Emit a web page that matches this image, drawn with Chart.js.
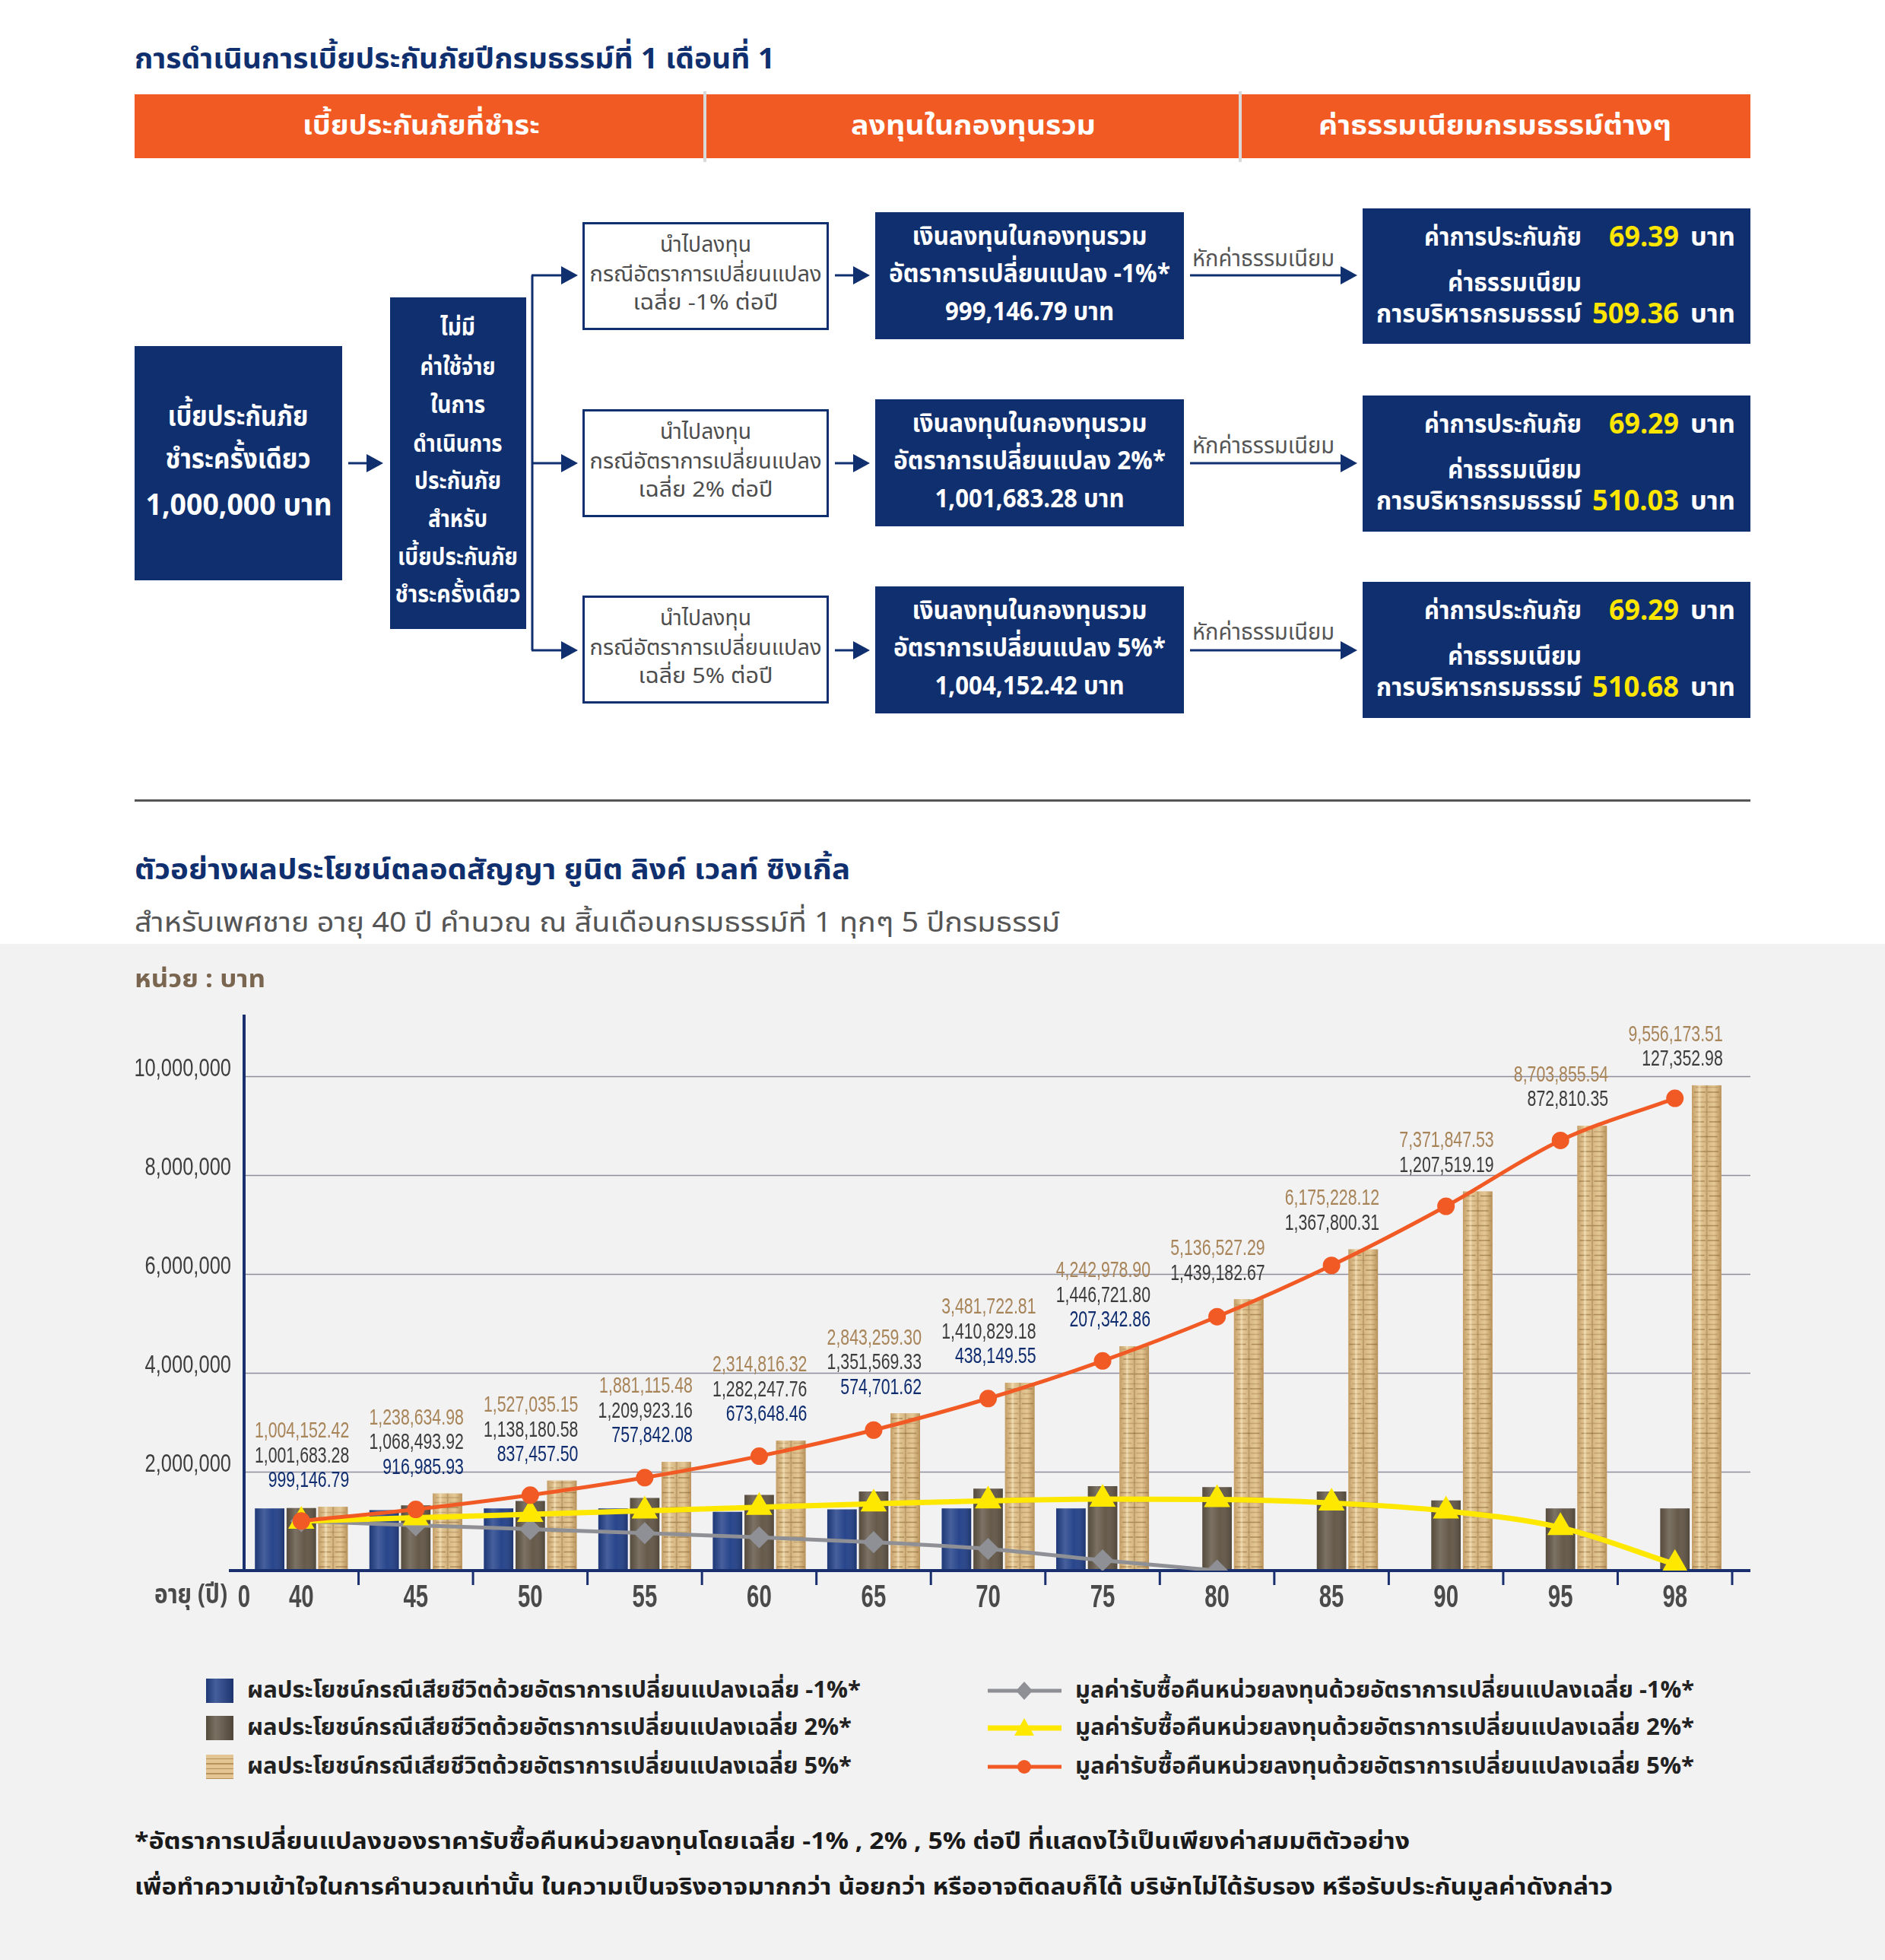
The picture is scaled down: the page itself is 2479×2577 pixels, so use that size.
<!DOCTYPE html>
<html lang="th">
<head>
<meta charset="utf-8">
<script src="https://cdn.jsdelivr.net/npm/chart.js@4.4.1/dist/chart.umd.min.js"></script>
<style>
html, body { margin: 0; padding: 0; background: #fff; }
#page { position: relative; width: 2479px; height: 2577px; overflow: hidden; font-family: "Noto Sans Thai", "Noto Sans", sans-serif; }
.blk { position: absolute; }
.navy { position: absolute; background: #0f2f6e; }
.wbox { position: absolute; background: #fff; border: 3px solid #0f2f6e; box-sizing: border-box; }
.t { position: absolute; left: 0; top: 0; white-space: nowrap; line-height: 1; transform-origin: 0 50%; }
#chartWrap { position: absolute; left: 150px; top: 1300px; width: 2200px; height: 880px; }
</style>
</head>
<body>
<div id="page">
  <div class="blk" style="left:0;top:1241px;width:2479px;height:1336px;background:#f2f2f3"></div>
  <div class="blk" style="left:177px;top:124px;width:2125px;height:84px;background:#f15a22"></div>
  <div class="blk" style="left:925px;top:120px;width:4px;height:93px;background:#d9d9d9"></div>
  <div class="blk" style="left:1629px;top:120px;width:4px;height:93px;background:#d9d9d9"></div>
  <div class="blk" style="left:177px;top:1051px;width:2125px;height:3px;background:#555"></div>

  <div class="navy" style="left:177px;top:455px;width:273px;height:308px"></div>
  <div class="navy" style="left:513px;top:391px;width:179px;height:436px"></div>
  <div class="wbox" style="left:766px;top:292px;width:324px;height:142px"></div>
  <div class="wbox" style="left:766px;top:538px;width:324px;height:142px"></div>
  <div class="wbox" style="left:766px;top:783px;width:324px;height:142px"></div>
  <div class="navy" style="left:1151px;top:279px;width:406px;height:167px"></div>
  <div class="navy" style="left:1151px;top:525px;width:406px;height:167px"></div>
  <div class="navy" style="left:1151px;top:771px;width:406px;height:167px"></div>
  <div class="navy" style="left:1792px;top:274px;width:510px;height:178px"></div>
  <div class="navy" style="left:1792px;top:520px;width:510px;height:179px"></div>
  <div class="navy" style="left:1792px;top:765px;width:510px;height:179px"></div>

  <svg id="arrows" class="blk" style="left:0;top:0" width="2479" height="1000"></svg>

  <div id="chartWrap"><canvas id="chart" width="2200" height="880"></canvas></div>
</div>

<script>
// ข้อมูลกราฟ (บาท)
var ages = ['40', '45', '50', '55', '60', '65', '70', '75', '80', '85', '90', '95', '98'];

// มูลค่ารับซื้อคืนหน่วยลงทุน
var cvMinus1 = [999146.79, 916985.93, 837457.50, 757842.08, 673648.46, 574701.62, 438149.55, 207342.86, 0, null, null, null, null];
var cv2 = [1001683.28, 1068493.92, 1138180.58, 1209923.16, 1282247.76, 1351569.33, 1410829.18, 1446721.80, 1439182.67, 1367800.31, 1207519.19, 872810.35, 127352.98];
var cv5 = [1004152.42, 1238634.98, 1527035.15, 1881115.48, 2314816.32, 2843259.30, 3481722.81, 4242978.90, 5136527.29, 6175228.12, 7371847.53, 8703855.54, 9556173.51];

// ผลประโยชน์กรณีเสียชีวิต (อ่านจากความสูงแท่ง)
var dbMinus1 = [1260000, 1225000, 1260000, 1260000, 1190000, 1240000, 1260000, 1260000, null, null, null, null, null];
var db2 = [1265000, 1320000, 1410000, 1470000, 1530000, 1600000, 1660000, 1710000, 1690000, 1600000, 1420000, 1260000, 1260000];
var db5 = [1290000, 1560000, 1820000, 2200000, 2630000, 3180000, 3800000, 4540000, 5490000, 6500000, 7670000, 9000000, 9820000];

var yTicks = [2000000, 4000000, 6000000, 8000000, 10000000];

var barLabels = [
    'ผลประโยชน์กรณีเสียชีวิตด้วยอัตราการเปลี่ยนแปลงเฉลี่ย -1%*',
    'ผลประโยชน์กรณีเสียชีวิตด้วยอัตราการเปลี่ยนแปลงเฉลี่ย 2%*',
    'ผลประโยชน์กรณีเสียชีวิตด้วยอัตราการเปลี่ยนแปลงเฉลี่ย 5%*'
];
var lineLabels = [
    'มูลค่ารับซื้อคืนหน่วยลงทุนด้วยอัตราการเปลี่ยนแปลงเฉลี่ย -1%*',
    'มูลค่ารับซื้อคืนหน่วยลงทุนด้วยอัตราการเปลี่ยนแปลงเฉลี่ย  2%*',
    'มูลค่ารับซื้อคืนหน่วยลงทุนด้วยอัตราการเปลี่ยนแปลงเฉลี่ย  5%*'
];

var NAVY = '#0f2f6e';
var THAI = '"Noto Sans Thai", "Noto Sans", sans-serif';
var SANS = '"Liberation Sans", Arial, sans-serif';
var page = document.getElementById('page');

// วางข้อความแล้วบีบให้ได้ความกว้างตามต้นฉบับ
function put(s, x, y, w, size, color, weight, anchor, family) {
    var e = document.createElement('span');
    e.className = 't';
    e.textContent = s;
    e.style.fontSize = size + 'px';
    e.style.color = color;
    e.style.fontWeight = weight || 400;
    if (family) e.style.fontFamily = family;
    page.appendChild(e);
    var r = e.getBoundingClientRect();
    var k = w ? w / r.width : 1;
    var ww = r.width * k;
    var left = anchor === 'c' ? x - ww / 2 : anchor === 'r' ? x - ww : x;
    e.style.transform = 'translate(' + left + 'px,' + (y - r.height / 2) + 'px) scaleX(' + k + ')';
    return e;
}

// ลูกศร
var svg = document.getElementById('arrows');
function arrow(x1, y, x2) {
    svg.insertAdjacentHTML('beforeend',
        '<line x1="' + x1 + '" y1="' + y + '" x2="' + (x2 - 18) + '" y2="' + y + '" stroke="' + NAVY + '" stroke-width="3"/>' +
        '<polygon points="' + (x2 - 22) + ',' + (y - 12) + ' ' + x2 + ',' + y + ' ' + (x2 - 22) + ',' + (y + 12) + '" fill="' + NAVY + '"/>');
}
arrow(458, 609, 504);
svg.insertAdjacentHTML('beforeend', '<line x1="700" y1="362" x2="700" y2="855" stroke="' + NAVY + '" stroke-width="3"/>');
[362, 609, 855].forEach(function (y) {
    arrow(699, y, 760);
    arrow(1098, y, 1144);
    arrow(1565, y, 1785);
});

// ส่วนบน
put('การดำเนินการเบี้ยประกันภัยปีกรมธรรม์ที่ 1 เดือนที่ 1', 177, 79, 842, 38, NAVY, 700, 'l');
put('เบี้ยประกันภัยที่ชำระ', 554, 166, 312, 36, '#fff', 700, 'c');
put('ลงทุนในกองทุนรวม', 1280, 166, 322, 36, '#fff', 700, 'c');
put('ค่าธรรมเนียมกรมธรรม์ต่างๆ', 1966, 166, 464, 36, '#fff', 700, 'c');

put('เบี้ยประกันภัย', 313, 549, 185, 38, '#fff', 700, 'c');
put('ชำระครั้งเดียว', 313, 605, 191, 38, '#fff', 700, 'c');
put('1,000,000 บาท', 314, 665, 245, 40, '#fff', 700, 'c');

var box2 = [['ไม่มี', 46], ['ค่าใช้จ่าย', 99], ['ในการ', 72], ['ดำเนินการ', 117], ['ประกันภัย', 114], ['สำหรับ', 78], ['เบี้ยประกันภัย', 158], ['ชำระครั้งเดียว', 165]];
var box2y = [431, 483, 533, 584, 633, 683, 733, 782];
box2.forEach(function (b, i) { put(b[0], 602, box2y[i], b[1], 32, '#fff', 700, 'c'); });

var rates = ['-1%', '2%', '5%'];
var invest = ['999,146.79 บาท', '1,001,683.28 บาท', '1,004,152.42 บาท'];
var insFee = ['69.39', '69.29', '69.29'];
var admFee = ['509.36', '510.03', '510.68'];
var rowTop = [292, 538, 783];
var navyTop = [279, 525, 771];
var rightTop = [274, 520, 765];
rates.forEach(function (r, i) {
    var t = rowTop[i];
    put('นำไปลงทุน', 928, t + 31, 120, 28, '#4d4d4d', 400, 'c');
    put('กรณีอัตราการเปลี่ยนแปลง', 928, t + 70, 305, 28, '#4d4d4d', 400, 'c');
    put('เฉลี่ย ' + r + ' ต่อปี', 928, t + 107, i === 0 ? 191 : 177, 28, '#4d4d4d', 400, 'c');

    var n = navyTop[i];
    put('เงินลงทุนในกองทุนรวม', 1354, n + 33, 309, 34, '#fff', 700, 'c');
    put('อัตราการเปลี่ยนแปลง ' + r + '*', 1354, n + 82, i === 0 ? 370 : 358, 34, '#fff', 700, 'c');
    put(invest[i], 1354, n + 132, i === 0 ? 222 : 249, 34, '#fff', 700, 'c');

    put('หักค่าธรรมเนียม', 1568, rowTop[i] + 49, 187, 30, '#555', 400, 'l');

    var q = rightTop[i];
    put('ค่าการประกันภัย', 2080, q + 39, 207, 34, '#fff', 700, 'r');
    put(insFee[i], 2208, q + 39, 92, 38, '#ffe600', 700, 'r');
    put('บาท', 2223, q + 39, 59, 34, '#fff', 700, 'l');
    put('ค่าธรรมเนียม', 2080, q + 99, 176, 34, '#fff', 700, 'r');
    put('การบริหารกรมธรรม์', 2080, q + 140, 270, 34, '#fff', 700, 'r');
    put(admFee[i], 2208, q + 140, 114, 38, '#ffe600', 700, 'r');
    put('บาท', 2223, q + 140, 59, 34, '#fff', 700, 'l');
});

// หัวกราฟ
put('ตัวอย่างผลประโยชน์ตลอดสัญญา ยูนิต ลิงค์ เวลท์ ซิงเกิ้ล', 177, 1145, 941, 38, NAVY, 700, 'l');
put('สำหรับเพศชาย อายุ 40 ปี คำนวณ ณ สิ้นเดือนกรมธรรม์ที่ 1 ทุกๆ 5 ปีกรมธรรม์', 177, 1214, 1217, 36, '#555', 400, 'l');
put('หน่วย : บาท', 177, 1288, 172, 32, '#7a6650', 700, 'l');

// สีแท่ง
var barColors = ['#24428a', '#635747', '#d7b684'];
var lineColors = ['#8f9096', '#ffe800', '#f15a24'];
var labelColors = ['#0e2c6e', '#3c3c3c', '#a88459'];

function coins(ctx, l, r, top, bot) {
    var g = ctx.createLinearGradient(l, 0, r, 0);
    g.addColorStop(0, '#c49d66');
    g.addColorStop(0.25, '#e6cc9b');
    g.addColorStop(0.5, '#d5b580');
    g.addColorStop(0.75, '#e4c895');
    g.addColorStop(1, '#b8915a');
    ctx.fillStyle = g;
    ctx.fillRect(l, top, r - l, bot - top);
    ctx.lineWidth = 1.4;
    var row = 0;
    for (var yy = bot - 5; yy > top + 2; yy -= 6.5, row++) {
        var s = (row * 7) % 5 - 2;
        ctx.strokeStyle = row % 3 === 0 ? 'rgba(130,92,48,0.55)' : 'rgba(150,110,62,0.35)';
        ctx.beginPath();
        ctx.moveTo(l + 3 + s, yy);
        ctx.lineTo(l + (r - l) * 0.46 + s, yy);
        ctx.moveTo(l + (r - l) * 0.54 - s, yy);
        ctx.lineTo(r - 3 - s, yy);
        ctx.stroke();
    }
    ctx.fillStyle = 'rgba(255,240,210,0.35)';
    ctx.fillRect(l + (r - l) * 0.22, top, 3, bot - top);
    ctx.fillStyle = 'rgba(120,85,40,0.25)';
    ctx.fillRect(l + (r - l) * 0.48, top, 2, bot - top);
}

function shade(ctx, l, r, top, bot) {
    var g = ctx.createLinearGradient(l, 0, r, 0);
    g.addColorStop(0, 'rgba(0,0,0,0.12)');
    g.addColorStop(0.3, 'rgba(255,255,255,0.16)');
    g.addColorStop(0.6, 'rgba(255,255,255,0.02)');
    g.addColorStop(1, 'rgba(0,0,0,0.2)');
    ctx.fillStyle = g;
    ctx.fillRect(l, top, r - l, bot - top);
}

function money(v) {
    return v.toLocaleString('en-US', { minimumFractionDigits: 2, maximumFractionDigits: 2 });
}

// ข้อความแบบบีบแนวนอน
function narrowText(c, s, x, y, sx, align) {
    c.save();
    c.translate(x, y);
    c.scale(sx, 1);
    c.textAlign = align;
    c.fillText(s, 0, 0);
    c.restore();
}

// dataset index: 0 orange, 1 yellow, 2 grey, 3 blue, 4 brown, 5 gold
var ORANGE = 0, YELLOW = 1, GREY = 2, BLUE = 3, BROWN = 4, GOLD = 5;

var decor = {
    id: 'decor',
    beforeDatasetsDraw: function (chart) {
        var c = chart.ctx, a = chart.chartArea, y = chart.scales.y;
        c.save();
        c.strokeStyle = '#8e8e9c';
        c.lineWidth = 1.5;
        c.fillStyle = '#3e3e3e';
        c.font = '34px ' + SANS;
        c.textBaseline = 'middle';
        yTicks.forEach(function (v) {
            var py = Math.round(y.getPixelForValue(v)) + 0.5;
            c.beginPath();
            c.moveTo(a.left, py);
            c.lineTo(a.right + 24, py);
            c.stroke();
            narrowText(c, v.toLocaleString('en-US'), a.left - 17, py - 10, 0.75, 'right');
        });
        c.restore();
    },
    afterDatasetDraw: function (chart, args) {
        var c = chart.ctx, i = args.index;
        if (i >= BLUE) {
            c.save();
            args.meta.data.forEach(function (el) {
                if (el.skip || el.y == null || isNaN(el.y)) return;
                var l = el.x - el.width / 2, r = el.x + el.width / 2;
                if (i === GOLD) coins(c, l, r, el.y, el.base);
                else shade(c, l, r, el.y, el.base);
            });
            c.restore();
        }
        if (i === BLUE) {
            // แกน
            var a = chart.chartArea;
            c.save();
            c.strokeStyle = '#1a2f6e';
            c.lineWidth = 4;
            c.beginPath();
            c.moveTo(a.left - 20, a.bottom);
            c.lineTo(a.right + 24, a.bottom);
            c.moveTo(a.left, a.top);
            c.lineTo(a.left, a.bottom);
            c.stroke();
            c.lineWidth = 3;
            var w = (a.right - a.left) / ages.length;
            for (var k = 1; k <= ages.length; k++) {
                var px = a.left + w * k;
                c.beginPath();
                c.moveTo(px, a.bottom);
                c.lineTo(px, a.bottom + 19);
                c.stroke();
            }
            c.restore();
        }
    },
    afterDatasetsDraw: function (chart) {
        var c = chart.ctx, a = chart.chartArea, x = chart.scales.x;
        var ly = a.bottom + 36;
        c.save();
        c.fillStyle = '#4a4a4a';
        c.textBaseline = 'middle';
        c.font = 'bold 42px ' + SANS;
        ages.forEach(function (age, i) {
            narrowText(c, age, x.getPixelForValue(i), ly, 0.7, 'center');
        });
        narrowText(c, '0', a.left, ly, 0.7, 'center');
        c.font = 'bold 36px ' + THAI;
        var tw = c.measureText('อายุ (ปี)').width;
        narrowText(c, 'อายุ (ปี)', a.left - 22, ly, 96 / tw, 'right');

        // ตัวเลขเหนือแท่ง
        c.font = '30px ' + SANS;
        var gold = chart.getDatasetMeta(GOLD).data;
        ages.forEach(function (age, i) {
            var el = gold[i];
            var right = el.x + el.width / 2 + 2;
            var vals = [[cvMinus1[i], labelColors[0]], [cv2[i], labelColors[1]], [cv5[i], labelColors[2]]]
                .filter(function (p) { return p[0]; });
            var yy = el.y - 34;
            vals.forEach(function (p) {
                c.fillStyle = p[1];
                narrowText(c, money(p[0]), right, yy, 0.71, 'right');
                yy -= 32.5;
            });
        });
        c.restore();
    }
};

Chart.defaults.font.family = SANS;

var ctx = document.getElementById('chart').getContext('2d');
var myChart = new Chart(ctx, {
    type: 'bar',
    data: {
        labels: ages,
        datasets: [
            {
                type: 'line', label: lineLabels[2], data: cv5,
                borderColor: lineColors[2], backgroundColor: lineColors[2],
                borderWidth: 5, pointStyle: 'circle', pointRadius: 9,
                cubicInterpolationMode: 'monotone', order: 1
            },
            {
                type: 'line', label: lineLabels[1], data: cv2,
                borderColor: lineColors[1], backgroundColor: lineColors[1],
                borderWidth: 7, pointStyle: 'triangle', pointRadius: 13,
                cubicInterpolationMode: 'monotone', order: 1
            },
            {
                type: 'line', label: lineLabels[0], data: cvMinus1,
                borderColor: lineColors[0], backgroundColor: lineColors[0],
                borderWidth: 5, pointStyle: 'rectRot', pointRadius: 11,
                cubicInterpolationMode: 'monotone', order: 1
            },
            { label: barLabels[0], data: dbMinus1, backgroundColor: barColors[0], order: 2 },
            { label: barLabels[1], data: db2, backgroundColor: barColors[1], order: 2 },
            { label: barLabels[2], data: db5, backgroundColor: barColors[2], order: 2 }
        ]
    },
    options: {
        responsive: false,
        devicePixelRatio: 1,
        animation: false,
        categoryPercentage: 0.83,
        barPercentage: 0.93,
        layout: { padding: { left: 0, right: 72, top: 34, bottom: 0 } },
        plugins: { legend: { display: false }, tooltip: { enabled: false } },
        scales: {
            x: {
                grid: { display: false, drawTicks: false },
                border: { display: false },
                ticks: { display: false },
                afterFit: function (s) { s.height = 115; }
            },
            y: {
                min: 0,
                max: 11250000,
                grid: { display: false, drawTicks: false },
                border: { display: false },
                ticks: { display: false, stepSize: 2000000 },
                afterFit: function (s) { s.width = 171; }
            }
        }
    },
    plugins: [decor]
});

// คำอธิบายสัญลักษณ์
var rowsY = [2223, 2272, 2323];
var barW = [807, 795, 795];
barLabels.forEach(function (lab, i) {
    var sw = document.createElement('div');
    sw.className = 'blk';
    sw.style.cssText = 'left:271px;top:' + (rowsY[i] - 16) + 'px;width:36px;height:32px;';
    if (i === 2) {
        sw.style.background = 'repeating-linear-gradient(180deg,#e2c592 0 5px,#b8925c 5px 6.5px),#d7b684';
    } else {
        sw.style.background = 'linear-gradient(90deg,rgba(0,0,0,0.15),rgba(255,255,255,0.15) 35%,rgba(0,0,0,0.2)),' + barColors[i];
    }
    page.appendChild(sw);
    put(lab, 325, rowsY[i], barW[i], 30, '#222', 700, 'l');
});
var marks = [
    '<polygon points="49,-12 60,0 49,12 38,0" fill="' + lineColors[0] + '"/>',
    '<polygon points="49,-13 62,10 36,10" fill="' + lineColors[1] + '"/>',
    '<circle cx="49" cy="0" r="9" fill="' + lineColors[2] + '"/>'
];
var lineW = [5, 7, 5];
lineLabels.forEach(function (lab, i) {
    svg = document.createElementNS('http://www.w3.org/2000/svg', 'svg');
    svg.setAttribute('width', '100');
    svg.setAttribute('height', '40');
    svg.setAttribute('viewBox', '0 -20 100 40');
    svg.setAttribute('class', 'blk');
    svg.style.left = '1298px';
    svg.style.top = (rowsY[i] - 20) + 'px';
    svg.innerHTML = '<line x1="1" y1="0" x2="98" y2="0" stroke="' + lineColors[i] + '" stroke-width="' + lineW[i] + '"/>' + marks[i];
    page.appendChild(svg);
    put(lab, 1414, rowsY[i], 814, 30, '#222', 700, 'l');
});

// หมายเหตุ
put('*อัตราการเปลี่ยนแปลงของราคารับซื้อคืนหน่วยลงทุนโดยเฉลี่ย -1% , 2% , 5% ต่อปี ที่แสดงไว้เป็นเพียงค่าสมมติตัวอย่าง', 177, 2422, 1677, 30, '#1a1a1a', 700, 'l');
put('เพื่อทำความเข้าใจในการคำนวณเท่านั้น ในความเป็นจริงอาจมากกว่า น้อยกว่า หรืออาจติดลบก็ได้ บริษัทไม่ได้รับรอง หรือรับประกันมูลค่าดังกล่าว', 177, 2482, 1944, 30, '#1a1a1a', 700, 'l');
</script>
</body>
</html>
